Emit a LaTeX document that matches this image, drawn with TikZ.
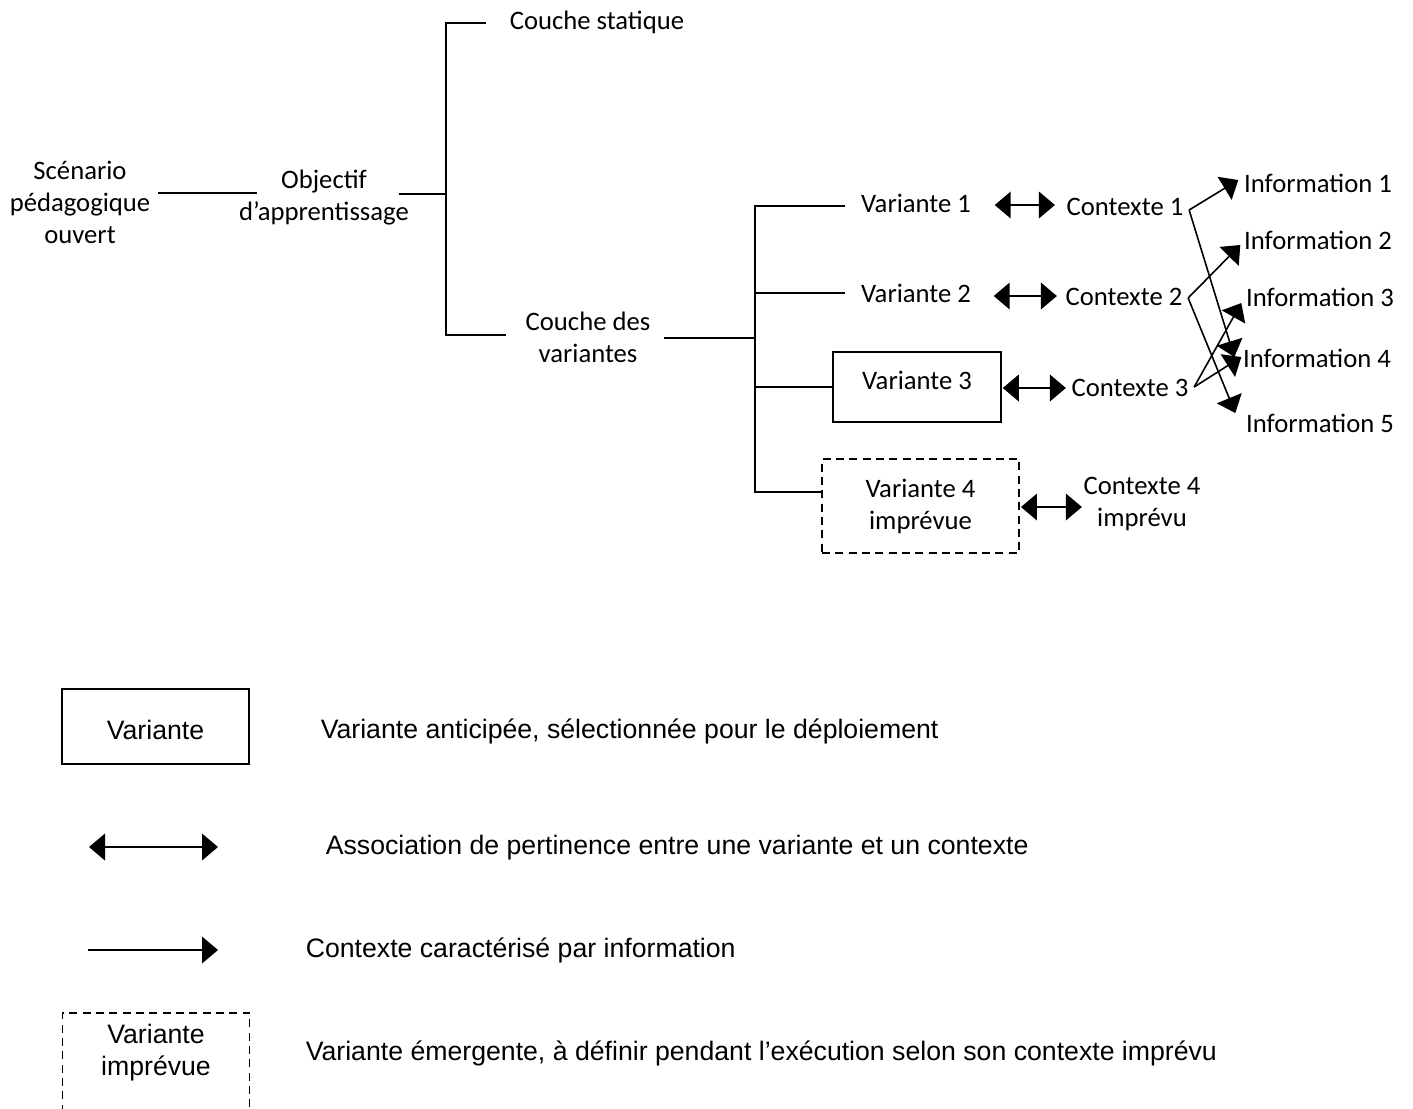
\documentclass[tikz,border=0pt]{standalone}
\usepackage{fontspec}
\setmainfont{Carlito}
\newfontfamily\legfont{Liberation Sans}
\usetikzlibrary{arrows.meta}

\tikzset{
  txt/.style={inner sep=0pt, align=center, font=\fontsize{20}{24}\selectfont},
  legtxt/.style={inner sep=0pt, anchor=west, font=\legfont\fontsize{20}{24}\selectfont},
  varbox/.style={txt, draw},
  legbox/.style={legtxt, anchor=center, align=center, draw},
  imprevu/.style={dash pattern=on 6pt off 4pt},
  assoc/.style={{Triangle[length=12pt,width=20pt]}-{Triangle[length=12pt,width=20pt]}},
  carac/.style={-{Triangle[length=12pt,width=20pt]}},
}

\begin{document}
\begin{tikzpicture}[x=0.75pt, y=-0.75pt, line width=1.2pt]
\useasboundingbox (0,0) rectangle (1413,1108);

% scenario et couches
\node[txt] (scen) at (80,202) {Scénario\\pédagogique\\ouvert};
\node[txt] (obj) at (324,198) {Objectif\\d’apprentissage};
\node[txt] (stat) at (597,22) {Couche statique};
\node[txt] (cdv) at (588,337) {Couche des\\variantes};

\coordinate (jA) at (446,194);
\coordinate (jB) at (755,338);

\draw ([shift={(7,-9)}]scen.east) -- ([shift={(19,-5)}]obj.west);
\draw ([shift={(-11,-4)}]obj.east) -- (jA);
\draw ([shift={(-23,1)}]stat.west) -| (jA) |- ([shift={(-19,-2)}]cdv.west);

% variantes
\node[txt] (v1) at (916,203) {Variante 1};
\node[txt] (v2) at (916,293) {Variante 2};
\node[varbox, text depth=10pt, minimum width=126pt, minimum height=52.5pt] (v3) at (917,387) {Variante 3};
\node[varbox, imprevu, minimum width=148pt, minimum height=70.5pt] (v4) at (920.5,506) {Variante 4\\imprévue};

\draw ([shift={(13,1)}]cdv.east) -- (jB);
\draw ([shift={(-15,3)}]v1.west) -| (jB) |- ([shift={(0,-14)}]v4.west);
\draw ([shift={(-15,0)}]v2.west) -- (v2.west -| jB);
\draw (v3.west) -- (v3.west -| jB);

% contextes
\node[txt] (c1) at (1125,207) {Contexte 1};
\node[txt] (c2) at (1124,297) {Contexte 2};
\node[txt] (c3) at (1130,388) {Contexte 3};
\node[txt] (c4) at (1142,504) {Contexte 4\\imprévu};

\draw[assoc] ([shift={(23,2)}]v1.east) -- ([shift={(-11,-2)}]c1.west);
\draw[assoc] ([shift={(22,3)}]v2.east) -- ([shift={(-8,-1)}]c2.west);
\draw[assoc] ([shift={(1,1)}]v3.east) -- ([shift={(-5,0)}]c3.west);
\draw[assoc] ([shift={(1,1)}]v4.east) -- ([shift={(-1,3)}]c4.west);

% informations
\node[txt] (i1) at (1318,183) {Information 1};
\node[txt] (i2) at (1318,240) {Information 2};
\node[txt] (i3) at (1320,297) {Information 3};
\node[txt] (i4) at (1317,358) {Information 4};
\node[txt] (i5) at (1320,423) {Information 5};

\draw[carac] ([shift={(5,3)}]c1.east) -- ([shift={(-5,-3)}]i1.west);
\draw[carac] ([shift={(5,3)}]c1.east) -- ([shift={(-8,-1)}]i4.west);
\draw[carac] ([shift={(5,1)}]c2.east) -- ([shift={(-3,5)}]i2.west);
\draw[carac] ([shift={(5,1)}]c2.east) -- ([shift={(-10,-10)}]i5.west);
\draw[carac] ([shift={(5,-1)}]c3.east) -- ([shift={(-4,6)}]i3.west);
\draw[carac] ([shift={(5,-1)}]c3.east) -- ([shift={(-1,-1)}]i4.west);

% legende
\node[legbox, text height=20pt, minimum width=140pt, minimum height=56pt] (leg1) at (155.5,726.5) {Variante};
\node[legtxt] (leg1t) at (320,731) {Variante anticipée, sélectionnée pour le déploiement};

\coordinate (la1) at (89,847);
\coordinate (la2) at (218,847);
\draw[assoc] (la1) -- (la2);
\node[legtxt] (leg2t) at (325,848) {Association de pertinence entre une variante et un contexte};

\coordinate (lb1) at (88,950);
\coordinate (lb2) at (218,950);
\draw[carac] (lb1) -- (lb2);
\node[legtxt] (leg3t) at (305,950) {Contexte caractérisé par information};

\node[legbox, imprevu, minimum width=140pt, minimum height=81pt, anchor=north] (leg4) at (156,1012) {};
\node[legtxt, anchor=center, align=center] (leg4v) at (156,1053) {Variante\\imprévue};
\node[legtxt] (leg4t) at (305,1053) {Variante émergente, à définir pendant l’exécution selon son contexte imprévu};
\end{tikzpicture}
\end{document}
